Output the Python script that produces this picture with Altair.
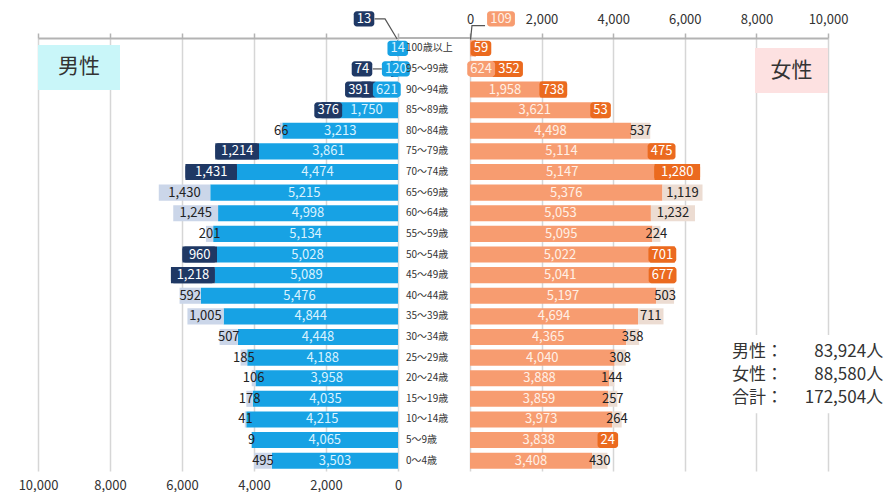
import altair as alt
import pandas as pd

# ---------------- data ----------------
ages = ["100歳以上", "95～99歳", "90～94歳", "85～89歳", "80～84歳", "75～79歳",
        "70～74歳", "65～69歳", "60～64歳", "55～59歳", "50～54歳", "45～49歳",
        "40～44歳", "35～39歳", "30～34歳", "25～29歳", "20～24歳", "15～19歳",
        "10～14歳", "5～9歳", "0～4歳"]
male_base = [14, 120, 621, 1750, 3213, 3861, 4474, 5215, 4998, 5134, 5028, 5089,
             5476, 4844, 4448, 4188, 3958, 4035, 4215, 4065, 3503]
male_change = [13, 74, 391, 376, 66, 1214, 1431, 1430, 1245, 201, 960, 1218,
               592, 1005, 507, 185, 106, 178, 41, 9, 495]
male_kind = ["inc", "inc", "inc", "inc", "dec", "inc", "inc", "dec", "dec", "dec", "inc", "inc",
             "dec", "dec", "dec", "dec", "dec", "dec", "dec", "dec", "dec"]
female_base = [109, 624, 1958, 3621, 4498, 5114, 5147, 5376, 5053, 5095, 5022, 5041,
               5197, 4694, 4365, 4040, 3888, 3859, 3973, 3838, 3408]
female_change = [59, 352, 738, 53, 537, 475, 1280, 1119, 1232, 224, 701, 677,
                 503, 711, 358, 308, 144, 257, 264, 24, 430]
female_kind = ["inc", "inc", "inc", "inc", "dec", "inc", "inc", "dec", "dec", "dec", "inc", "inc",
               "dec", "dec", "dec", "dec", "dec", "dec", "dec", "inc", "dec"]
x_ticks = [0, 2000, 4000, 6000, 8000, 10000]
summary_labels = ["男性：", "女性：", "合計："]
summary_values = ["83,924人", "88,580人", "172,504人"]
gender_labels = ["男性", "女性"]

# ---------------- style ----------------
FONT = "Noto Sans CJK JP"
M_BASE, M_INC, M_HATCH = "#17a2e4", "#1f3864", "#cbd6e9"
F_BASE, F_INC, F_HATCH = "#f79c70", "#eb6a1f", "#ecdcd2"
M_LBL, F_LBL = "#d9f2ff", "#fff0e6"
GRID, DOMAIN, TXT = "#d6d6d6", "#b3b3b3", "#333333"
W_M, W_MID, W_F, H = 360, 72, 358, 433
HALF = 0.39
BOXH = 0.37
FS = 13


def text_px(s, fs=FS):
    w = 0.0
    for ch in s:
        if ch.isdigit():
            w += 0.56 * fs
        elif ch == ",":
            w += 0.3 * fs
        else:
            w += fs
    return w


def build(base, change, kind, width, moved_base, moved_change):
    pxu = width / 10000
    bars, bl, bb, cl, cb = [], [], [], [], []
    for i, (b, c, k) in enumerate(zip(base, change, kind)):
        bars.append(dict(idx=i, y0=i - HALF, y1=i + HALF, x0=0, base=b, end=b + c, kind=k))
        btxt, ctxt = f"{b:,}", f"{c:,}"
        outer = 0.0
        if i not in moved_base:
            bl.append(dict(idx=i, x=b / 2, text=btxt))
            outer = b / 2 + (text_px(btxt) / 2) / pxu
            if text_px(btxt) + 2 > b * pxu:
                hw = (text_px(btxt) / 2 + 3) / pxu
                bb.append(dict(y0=i - BOXH, y1=i + BOXH, x0=b / 2 - hw, x1=b / 2 + hw))
                outer = b / 2 + hw
        if i not in moved_change:
            cx = b + c / 2
            if k == "inc":
                hw = max(c / 2, (text_px(ctxt) / 2 + 3) / pxu)
                if cx - hw < outer:
                    cx = outer + hw
                cb.append(dict(y0=i - HALF, y1=i + HALF, x0=cx - hw, x1=cx + hw))
            cl.append(dict(idx=i, x=cx, text=ctxt, kind=k))
    return (pd.DataFrame(bars), pd.DataFrame(bl), pd.DataFrame(bb),
            pd.DataFrame(cl), pd.DataFrame(cb))


def callouts(items, width):
    pxu = width / 10000
    rows = []
    for (x, y, txt, fill, tcol) in items:
        hw = (text_px(txt) / 2 + 3) / pxu
        rows.append(dict(x=x, y=y, text=txt, fill=fill, tcol=tcol,
                         x0=x - hw, x1=x + hw, y0=y - BOXH, y1=y + BOXH))
    return pd.DataFrame(rows)


ys = alt.Scale(domain=[-0.5, 20.5], reverse=True, nice=False, zero=False)
xs_m = alt.Scale(domain=[0, 10000], reverse=True, nice=False, zero=False)
xs_f = alt.Scale(domain=[0, 10000], nice=False, zero=False)


def xq(field, scale, axis=None):
    return alt.X(field, type="quantitative", scale=scale, axis=axis)


def yq(field):
    return alt.Y(field, type="quantitative", scale=ys, axis=None)


def side(base, change, kind, width, xs, c_base, c_inc, c_hatch, c_lbl,
         moved_base, moved_change, call_items, lines, axis_a, axis_b):
    bars, bl, bb, cl, cb = build(base, change, kind, width, moved_base, moved_change)
    co = callouts(call_items, width)
    layers = [
        alt.Chart(bars).mark_rect(color=c_base).encode(
            x=xq("x0", xs, axis_a), x2="base:Q", y=yq("y0"), y2="y1:Q"),
        alt.Chart(bars).mark_rect().encode(
            x=xq("base", xs, axis_b), x2="end:Q", y=yq("y0"), y2="y1:Q",
            color=alt.condition("datum.kind == 'inc'", alt.value(c_inc), alt.value(c_hatch))),
        alt.Chart(cb).mark_rect(color=c_inc, cornerRadius=3).encode(
            x=xq("x0", xs), x2="x1:Q", y=yq("y0"), y2="y1:Q"),
        alt.Chart(bb).mark_rect(color=c_base, cornerRadius=3).encode(
            x=xq("x0", xs), x2="x1:Q", y=yq("y0"), y2="y1:Q"),
        alt.Chart(bl).mark_text(font=FONT, fontSize=FS, color=c_lbl).encode(
            x=xq("x", xs), y=yq("idx"), text="text:N"),
        alt.Chart(cl).mark_text(font=FONT, fontSize=FS).encode(
            x=xq("x", xs), y=yq("idx"), text="text:N",
            color=alt.condition("datum.kind == 'inc'", alt.value("#ffffff"), alt.value("#222222"))),
        alt.Chart(lines).mark_line(color="#555555", strokeWidth=1.2).encode(
            x=xq("x", xs), y=yq("y"), detail="g:N", order="o:Q"),
        alt.Chart(co).mark_rect(cornerRadius=3).encode(
            x=xq("x0", xs), x2="x1:Q", y=yq("y0"), y2="y1:Q",
            color=alt.Color("fill:N", scale=None)),
        alt.Chart(co).mark_text(font=FONT, fontSize=FS).encode(
            x=xq("x", xs), y=yq("y"), text="text:N",
            color=alt.Color("tcol:N", scale=None)),
    ]
    return layers


axis_m_top = alt.Axis(orient="top", values=x_ticks, labels=False, grid=True, gridColor=GRID,
                      gridWidth=1.5, domain=True, domainColor=DOMAIN, domainWidth=2,
                      ticks=True, tickSize=5, tickColor=DOMAIN, tickWidth=1.5, title=None)
axis_m_bot = alt.Axis(orient="bottom", values=x_ticks, format=",d", grid=False, domain=False,
                      ticks=False, labelPadding=8, labelFont=FONT, labelFontSize=13,
                      labelColor=TXT, labelFlush=False, title=None)
axis_f_top = alt.Axis(orient="top", values=x_ticks, format=",d", grid=True, gridColor=GRID,
                      gridWidth=1.5, domain=True, domainColor=DOMAIN, domainWidth=2,
                      ticks=True, tickSize=5, tickColor=DOMAIN, tickWidth=1.5,
                      labelPadding=7, labelFont=FONT, labelFontSize=13, labelColor=TXT,
                      labelFlush=False, title=None)

# male panel
m_lines = pd.DataFrame([
    dict(g="a", o=0, x=650, y=-1.43), dict(g="a", o=1, x=360, y=-1.43), dict(g="a", o=2, x=25, y=-0.45),
    dict(g="b", o=0, x=700, y=1), dict(g="b", o=1, x=450, y=1),
])
m_calls = [(944, -1.43, f"{male_change[0]:,}", M_INC, "#ffffff"),
           (1000, 1, f"{male_change[1]:,}", M_INC, "#ffffff")]
m_layers = side(male_base, male_change, male_kind, W_M, xs_m, M_BASE, M_INC, M_HATCH, M_LBL,
                set(), {0, 1}, m_calls, m_lines, axis_m_top, axis_m_bot)
m_gender = pd.DataFrame([dict(x0=10000, x1=7722, y0=-0.16, y1=2.02, tx=8861, ty=0.93,
                              text=gender_labels[0])])
m_layers += [
    alt.Chart(m_gender).mark_rect(color="#c9f6f9").encode(
        x=xq("x0", xs_m), x2="x1:Q", y=yq("y0"), y2="y1:Q"),
    alt.Chart(m_gender).mark_text(font=FONT, fontSize=21, color=TXT).encode(
        x=xq("tx", xs_m), y=yq("ty"), text="text:N"),
]
male = alt.layer(*m_layers).resolve_axis(x="independent").properties(width=W_M, height=H)

# middle panel (age labels)
mid_df = pd.DataFrame(dict(idx=list(range(len(ages))), age=ages))
mid = alt.layer(
    alt.Chart(mid_df).mark_text(font=FONT, fontSize=10, color=TXT, align="left").encode(
        x=alt.value(8), y=yq("idx"), text="age:N"),
    alt.Chart(mid_df).mark_rule(color=DOMAIN, strokeWidth=2).encode(
        x=alt.value(0), x2=alt.value(W_MID), y=alt.value(0)),
).properties(width=W_MID, height=H)

# female panel
f_lines = pd.DataFrame([
    dict(g="a", o=0, x=15, y=-0.42), dict(g="a", o=1, x=55, y=-1.1), dict(g="a", o=2, x=420, y=-1.1),
])
f_calls = [(866, -1.43, f"{female_base[0]:,}", F_BASE, F_LBL),
           (307, 0, f"{female_change[0]:,}", F_INC, "#ffffff")]
f_layers = side(female_base, female_change, female_kind, W_F, xs_f, F_BASE, F_INC, F_HATCH, F_LBL,
                {0}, {0}, f_calls, f_lines, axis_f_top, None)
f_gender = pd.DataFrame([dict(x0=7961, x1=10000, y0=-0.015, y1=2.17, tx=8980, ty=1.08,
                              text=gender_labels[1])])
summ = pd.DataFrame(dict(label=summary_labels, value=summary_values, y=[14.72, 15.85, 16.98],
                         lx=[7318] * 3, vx=[11540] * 3))
blank = pd.DataFrame([dict(x0=7100, x1=11550, y0=13.9, y1=17.7)])
f_layers += [
    alt.Chart(f_gender).mark_rect(color="#fde1e1").encode(
        x=xq("x0", xs_f), x2="x1:Q", y=yq("y0"), y2="y1:Q"),
    alt.Chart(f_gender).mark_text(font=FONT, fontSize=21, color=TXT).encode(
        x=xq("tx", xs_f), y=yq("ty"), text="text:N"),
    alt.Chart(blank).mark_rect(color="#ffffff").encode(
        x=xq("x0", xs_f), x2="x1:Q", y=yq("y0"), y2="y1:Q"),
    alt.Chart(summ).mark_text(font=FONT, fontSize=17, color=TXT, align="left").encode(
        x=xq("lx", xs_f), y=yq("y"), text="label:N"),
    alt.Chart(summ).mark_text(font=FONT, fontSize=17, color=TXT, align="right").encode(
        x=xq("vx", xs_f), y=yq("y"), text="value:N"),
]
female = alt.layer(*f_layers).resolve_axis(x="independent").properties(width=W_F, height=H)

chart = alt.hconcat(male, mid, female, spacing=0, bounds="flush").configure_view(
    strokeWidth=0).properties(padding={"left": 10, "top": 3, "right": 0, "bottom": 0})

chart.save("out.html", embed_options={"renderer": "svg", "actions": False})
